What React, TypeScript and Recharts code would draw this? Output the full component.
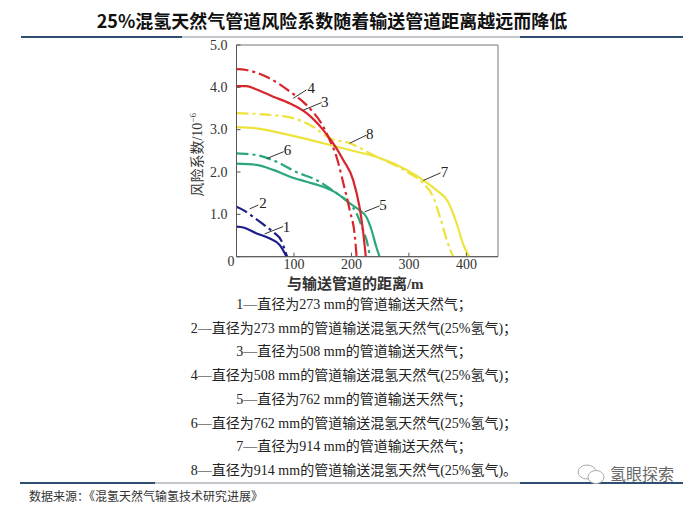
import React from "react";
import {
  LineChart,
  Line,
  XAxis,
  YAxis,
  ReferenceArea,
  ReferenceLine,
  ReferenceDot,
} from "recharts";

// distance from pipeline (m) / risk coefficient (10^-6)
const s1 = [
  { d: 0, r: 0.71 }, { d: 12, r: 0.69 }, { d: 35, r: 0.55 }, { d: 58, r: 0.43 },
  { d: 75, r: 0.28 }, { d: 84, r: 0.08 }, { d: 87, r: 0 },
];
const s2 = [
  { d: 0, r: 1.18 }, { d: 12, r: 1.1 }, { d: 29, r: 0.94 }, { d: 52, r: 0.71 },
  { d: 67, r: 0.55 }, { d: 78, r: 0.38 }, { d: 85, r: 0.12 }, { d: 88, r: 0 },
];
const s3 = [
  { d: 0, r: 4.03 }, { d: 17, r: 4.03 }, { d: 35, r: 3.95 }, { d: 64, r: 3.78 },
  { d: 93, r: 3.62 }, { d: 122, r: 3.39 }, { d: 151, r: 2.99 }, { d: 168, r: 2.68 },
  { d: 186, r: 2.28 }, { d: 203, r: 1.81 }, { d: 214, r: 1.18 }, { d: 220, r: 0.63 },
  { d: 225, r: 0 },
];
const s4 = [
  { d: 0, r: 4.43 }, { d: 17, r: 4.41 }, { d: 52, r: 4.25 }, { d: 93, r: 3.9 },
  { d: 122, r: 3.58 }, { d: 151, r: 3.07 }, { d: 162, r: 2.76 }, { d: 174, r: 2.36 },
  { d: 186, r: 1.73 }, { d: 197, r: 1.1 }, { d: 206, r: 0.47 }, { d: 209, r: 0 },
];
const s5 = [
  { d: 0, r: 2.2 }, { d: 35, r: 2.17 }, { d: 64, r: 2.05 }, { d: 93, r: 1.89 },
  { d: 122, r: 1.77 }, { d: 151, r: 1.65 }, { d: 174, r: 1.5 }, { d: 197, r: 1.26 },
  { d: 214, r: 1.1 }, { d: 226, r: 0.94 }, { d: 235, r: 0.63 }, { d: 243, r: 0.24 },
  { d: 249, r: 0 },
];
const s6 = [
  { d: 0, r: 2.44 }, { d: 35, r: 2.4 }, { d: 70, r: 2.24 }, { d: 104, r: 2.0 },
  { d: 139, r: 1.81 }, { d: 174, r: 1.5 }, { d: 197, r: 1.26 }, { d: 209, r: 1.02 },
  { d: 220, r: 0.63 }, { d: 229, r: 0.24 }, { d: 232, r: 0 },
];
const s7 = [
  { d: 0, r: 3.06 }, { d: 35, r: 3.03 }, { d: 93, r: 2.87 }, { d: 151, r: 2.68 },
  { d: 209, r: 2.48 }, { d: 243, r: 2.36 }, { d: 296, r: 2.05 }, { d: 325, r: 1.81 },
  { d: 348, r: 1.57 }, { d: 368, r: 1.3 }, { d: 383, r: 0.79 }, { d: 394, r: 0.31 },
  { d: 405, r: 0 },
];
const s8 = [
  { d: 0, r: 3.39 }, { d: 35, r: 3.37 }, { d: 93, r: 3.29 }, { d: 133, r: 3.07 },
  { d: 162, r: 2.8 }, { d: 197, r: 2.68 }, { d: 238, r: 2.4 }, { d: 296, r: 2.01 },
  { d: 325, r: 1.73 }, { d: 342, r: 1.42 }, { d: 354, r: 0.94 }, { d: 368, r: 0.31 },
  { d: 377, r: 0 },
];

const xTicks = [100, 200, 300, 400];
const yTicks = [0, 1, 2, 3, 4, 5];

// curve numbers and where they sit
const curveNames = ["1", "2", "3", "4", "5", "6", "7", "8"];
const namePos = [
  [87, 0.72], [46, 1.28], [153.6, 3.66], [130, 4.0],
  [255, 1.22], [88.7, 2.52], [362, 2.0], [232, 2.91],
];
const leaders = [
  [49, 0.54, 81, 0.71], [23, 1.13, 38, 1.22], [116, 3.46, 148, 3.64], [98.6, 3.74, 121.7, 3.94],
  [223, 1.06, 249, 1.2], [53, 2.32, 82, 2.48], [325, 1.8, 355, 1.98], [197, 2.68, 226, 2.87],
];

const legendLines = [
  "1—直径为273 mm的管道输送天然气；",
  "2—直径为273 mm的管道输送混氢天然气(25%氢气)；",
  "3—直径为508 mm的管道输送天然气；",
  "4—直径为508 mm的管道输送混氢天然气(25%氢气)；",
  "5—直径为762 mm的管道输送天然气；",
  "6—直径为762 mm的管道输送混氢天然气(25%氢气)；",
  "7—直径为914 mm的管道输送天然气；",
  "8—直径为914 mm的管道输送混氢天然气(25%氢气)。",
];

const serif = '"Liberation Serif", "Noto Sans CJK SC", serif';
const cjk = '"Noto Sans CJK SC", sans-serif';
const dashDot = "12 4 3 4";

const series = [
  { data: s7, color: "#ece43c", dash: undefined },
  { data: s8, color: "#ece43c", dash: dashDot },
  { data: s5, color: "#2ba77b", dash: undefined },
  { data: s6, color: "#2ba77b", dash: dashDot },
  { data: s3, color: "#d8252c", dash: undefined },
  { data: s4, color: "#d8252c", dash: dashDot },
  { data: s1, color: "#1d1d8c", dash: undefined },
  { data: s2, color: "#1d1d8c", dash: dashDot },
];

const YTick = (props: any) => {
  const { x, y, payload } = props;
  const v = payload.value;
  const zero = v === 0;
  return (
    <text
      x={x + (zero ? 7 : 0)}
      y={y + (zero ? 5 : 0)}
      textAnchor="end"
      dominantBaseline="central"
      fontFamily={serif}
      fontSize={14}
      fill="#333"
    >
      {zero ? "0" : v.toFixed(1)}
    </text>
  );
};

const YLabel = (props: any) => {
  const vb = props.viewBox;
  const x = vb.x + 11;
  const y = vb.y + vb.height / 2 + 4;
  return (
    <text
      x={x}
      y={y}
      transform={`rotate(-90, ${x}, ${y})`}
      textAnchor="middle"
      fontFamily={serif}
      fontSize={14}
      fill="#333"
    >
      风险系数/10
      <tspan dy={-6} fontSize={9}>
        −6
      </tspan>
    </text>
  );
};

export default function App() {
  return (
    <div
      style={{
        position: "absolute",
        left: 0,
        top: 0,
        width: 700,
        height: 506,
        background: "#fff",
        overflow: "hidden",
      }}
    >
      <div
        style={{
          position: "absolute",
          left: 0,
          width: 664,
          top: 8,
          textAlign: "center",
          fontFamily: cjk,
          fontWeight: 700,
          fontSize: 18,
          lineHeight: "24px",
          color: "#111",
        }}
      >
        25%混氢天然气管道风险系数随着输送管道距离越远而降低
      </div>
      <div style={{ position: "absolute", left: 21, top: 36, width: 662, height: 2, background: "#2f4f72" }} />
      <div style={{ position: "absolute", left: 182, top: 36, width: 338, height: 2, background: "#c4c8cc" }} />

      <div style={{ position: "absolute", left: 0, top: 0 }}>
        <LineChart
          width={700}
          height={506}
          margin={{ top: 45, right: 202, bottom: 219.3, left: 191.5 }}
        >
          <XAxis
            dataKey="d"
            type="number"
            domain={[0, 455]}
            ticks={xTicks}
            allowDataOverflow
            height={30}
            stroke="#555"
            tickSize={-4}
            tickMargin={6}
            tick={{ fontFamily: serif, fontSize: 14, fill: "#333" }}
            label={{
              value: "与输送管道的距离/m",
              position: "insideBottom",
              offset: -2,
              dx: -12,
              fontFamily: serif,
              fontSize: 15,
              fontWeight: 700,
              fill: "#333",
            }}
          />
          <YAxis
            dataKey="r"
            type="number"
            domain={[0, 5]}
            ticks={yTicks}
            width={45}
            stroke="#555"
            tickSize={-4}
            tickMargin={13}
            tick={<YTick />}
            label={<YLabel />}
          />
          <ReferenceArea x1={0} x2={455} y1={0} y2={5} fill="none" stroke="#777" strokeWidth={1} />
          {series.map((s, i) => (
            <Line
              key={i}
              data={s.data}
              dataKey="r"
              type="monotone"
              stroke={s.color}
              strokeWidth={2.2}
              strokeDasharray={s.dash}
              dot={false}
              isAnimationActive={false}
            />
          ))}
          {leaders.map((l, i) => (
            <ReferenceLine
              key={"l" + i}
              segment={[
                { x: l[0], y: l[1] },
                { x: l[2], y: l[3] },
              ]}
              stroke="#333"
              strokeWidth={1}
            />
          ))}
          {curveNames.map((n, i) => (
            <ReferenceDot
              key={"n" + i}
              x={namePos[i][0]}
              y={namePos[i][1]}
              r={0}
              fill="none"
              stroke="none"
              label={{ value: n, position: "center", fontFamily: serif, fontSize: 15, fill: "#222" }}
            />
          ))}
        </LineChart>
      </div>

      {legendLines.map((t, i) => (
        <div
          key={i}
          style={{
            position: "absolute",
            left: 154,
            width: 400,
            top: 295 + i * 23.7,
            textAlign: "center",
            fontFamily: serif,
            fontSize: 14,
            lineHeight: "20px",
            color: "#222",
            whiteSpace: "nowrap",
          }}
        >
          {t}
        </div>
      ))}

      <div style={{ position: "absolute", left: 20, top: 482, width: 663, height: 2, background: "#2f4f72" }} />
      <div style={{ position: "absolute", left: 155, top: 482, width: 365, height: 2, background: "#c4c8cc" }} />
      <div
        style={{
          position: "absolute",
          left: 29,
          top: 488,
          fontFamily: cjk,
          fontSize: 12,
          lineHeight: "16px",
          color: "#333",
        }}
      >
        数据来源：《混氢天然气输氢技术研究进展》
      </div>
      <div
        style={{
          position: "absolute",
          left: 610,
          top: 463,
          fontFamily: cjk,
          fontSize: 16,
          lineHeight: "20px",
          color: "#666",
        }}
      >
        氢眼探索
      </div>
      <svg style={{ position: "absolute", left: 575, top: 462 }} width={34} height={26}>
        <ellipse cx={12} cy={10} rx={9} ry={7} fill="#fff" stroke="#aaa" />
        <ellipse cx={21} cy={15} rx={8} ry={6.5} fill="#fff" stroke="#aaa" />
      </svg>
    </div>
  );
}
